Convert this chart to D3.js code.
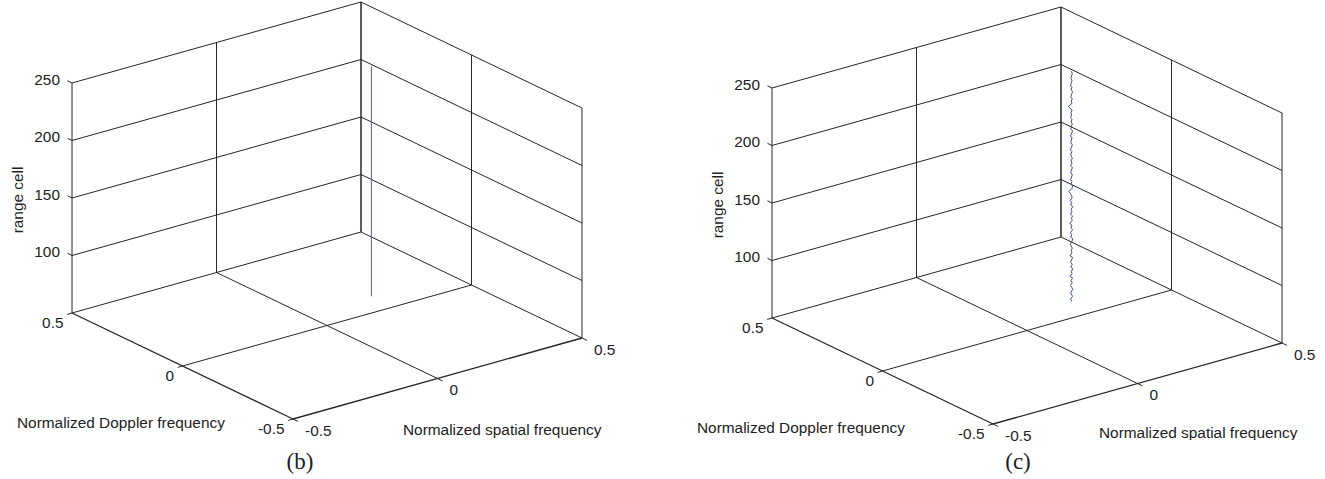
<!DOCTYPE html>
<html>
<head>
<meta charset="utf-8">
<script src="https://cdn.jsdelivr.net/npm/d3@7"></script>
<style>
  body { margin: 0; background: #fff; }
  text { font-family: "Liberation Sans", Arial, sans-serif; font-size: 15.4px; fill: #222; }
  .caption { font-family: "Liberation Serif", "Times New Roman", serif; font-size: 23px; }
</style>
</head>
<body>
<svg id="chart" width="1325" height="479"></svg>
<script>
// axis ticks and limits
var dopplerTicks = [-0.5, 0, 0.5];
var spatialTicks = [-0.5, 0, 0.5];
var rangeTicks = [100, 150, 200, 250];
var rangeLimits = [50, 250];
var gridLevels = [50, 100, 150, 200, 250];

// (b) estimated target track: straight line over the range cells
var bRange = [50, 250];
var bSpatial = [0.230, 0.230];
var bDoppler = 0.10;

// (c) estimated target track, every second range cell
var cRange = d3.range(50, 251, 2);
var cSpatial = [
  0.232, 0.227, 0.234, 0.230, 0.228, 0.235, 0.231, 0.227, 0.233, 0.229,
  0.234, 0.226, 0.232, 0.230, 0.235, 0.228, 0.233, 0.227, 0.231, 0.234,
  0.225, 0.232, 0.229, 0.233, 0.230, 0.226, 0.232, 0.235, 0.228, 0.231,
  0.227, 0.234, 0.229, 0.232, 0.224, 0.233, 0.230, 0.234, 0.227, 0.232,
  0.229, 0.235, 0.228, 0.231, 0.226, 0.233, 0.230, 0.227, 0.221, 0.232,
  0.234, 0.229, 0.232, 0.227, 0.231, 0.233, 0.228, 0.230, 0.234, 0.227,
  0.232, 0.229, 0.233, 0.230, 0.228, 0.232, 0.226, 0.231, 0.233, 0.228,
  0.230, 0.232, 0.227, 0.231, 0.234, 0.228, 0.230, 0.233, 0.229, 0.232,
  0.227, 0.231, 0.228, 0.233, 0.226, 0.220, 0.232, 0.230, 0.233, 0.228,
  0.231, 0.234, 0.229, 0.232, 0.227, 0.230, 0.232, 0.228, 0.231, 0.233,
  0.230
];
var cDoppler = 0.10;

var svg = d3.select("#chart");

// oblique 3-D view: one scale per screen component of each data axis
function makeProjection(ox, oy)
{
    var sx = d3.scaleLinear().domain([-0.5, 0.5]).range([0, 289]),
        sy = d3.scaleLinear().domain([-0.5, 0.5]).range([0, -81]),
        dx = d3.scaleLinear().domain([0.5, -0.5]).range([0, 221]),
        dy = d3.scaleLinear().domain([0.5, -0.5]).range([0, 106]),
        zy = d3.scaleLinear().domain(rangeLimits).range([0, -230]);
    return function(s, d, z)
    {
        return [ox + sx(s) + dx(d), oy + sy(s) + dy(d) + zy(z)];
    };
}

function drawPanel(opt)
{
    var p = makeProjection(opt.ox, opt.oy);
    var g = svg.append("g");

    function seg(a, b, w)
    {
        g.append("line")
            .attr("x1", a[0]).attr("y1", a[1])
            .attr("x2", b[0]).attr("y2", b[1])
            .attr("stroke", "#262626")
            .attr("stroke-width", w || 1);
    }

    // back walls: horizontal grid lines
    gridLevels.forEach(function(z)
    {
        seg(p(-0.5, 0.5, z), p(0.5, 0.5, z));
        seg(p(0.5, 0.5, z), p(0.5, -0.5, z));
    });
    // back walls: vertical grid lines
    spatialTicks.forEach(function(s)
    {
        seg(p(s, 0.5, rangeLimits[0]), p(s, 0.5, rangeLimits[1]));
    });
    dopplerTicks.forEach(function(d)
    {
        seg(p(0.5, d, rangeLimits[0]), p(0.5, d, rangeLimits[1]));
    });
    // floor grid
    seg(p(0, 0.5, rangeLimits[0]), p(0, -0.5, rangeLimits[0]));
    seg(p(-0.5, 0, rangeLimits[0]), p(0.5, 0, rangeLimits[0]));
    // front axis lines
    seg(p(-0.5, 0.5, rangeLimits[0]), p(-0.5, -0.5, rangeLimits[0]), 1.3);
    seg(p(-0.5, -0.5, rangeLimits[0]), p(0.5, -0.5, rangeLimits[0]), 1.3);

    // range cell ticks (left edge)
    rangeTicks.forEach(function(z)
    {
        var a = p(-0.5, 0.5, z);
        seg(a, [a[0] - 4.5, a[1] - 2.2]);
        g.append("text")
            .attr("x", a[0] - 12).attr("y", a[1] - 3.5)
            .attr("dy", "0.35em")
            .attr("text-anchor", "end")
            .text(z);
    });
    // Doppler ticks
    dopplerTicks.forEach(function(d)
    {
        var a = p(-0.5, d, rangeLimits[0]);
        seg(a, [a[0] - 4.8, a[1] + 1.4]);
        g.append("text")
            .attr("x", a[0] - 8.5).attr("y", a[1] + 10)
            .attr("dy", "0.35em")
            .attr("text-anchor", "end")
            .text(d);
    });
    // spatial ticks
    spatialTicks.forEach(function(s)
    {
        var a = p(s, -0.5, rangeLimits[0]);
        seg(a, [a[0] + 5, a[1] + 2.4]);
        g.append("text")
            .attr("x", a[0] + 12).attr("y", a[1] + 11.5)
            .attr("dy", "0.35em")
            .attr("text-anchor", "start")
            .text(s);
    });

    // target track
    var line = d3.line()
        .x(function(v) { return p(v[0], v[1], v[2])[0]; })
        .y(function(v) { return p(v[0], v[1], v[2])[1]; });
    g.append("path")
        .datum(opt.track)
        .attr("d", line)
        .attr("fill", "none")
        .attr("stroke", opt.trackColor)
        .attr("stroke-width", 1);

    // axis titles
    g.append("text")
        .attr("x", opt.dopplerTitle[0]).attr("y", opt.dopplerTitle[1])
        .attr("dy", "0.35em")
        .text("Normalized Doppler frequency");
    var st = g.append("text")
        .attr("x", opt.spatialTitle[0]).attr("y", opt.spatialTitle[1])
        .attr("dy", "0.35em")
        .text("Normalized spatial frequency");
    if (opt.clipY)
    {
        var id = "clip" + opt.caption.replace(/\W/g, "");
        svg.append("clipPath").attr("id", id)
            .append("rect").attr("x", 0).attr("y", 0)
            .attr("width", 1325).attr("height", opt.clipY);
        st.attr("clip-path", "url(#" + id + ")");
    }
    g.append("text")
        .attr("transform", "translate(" + opt.rangeTitle[0] + "," + opt.rangeTitle[1] + ") rotate(-90)")
        .attr("dy", "0.35em")
        .attr("text-anchor", "middle")
        .text("range cell");
    g.append("text")
        .attr("class", "caption")
        .attr("x", opt.captionPos[0]).attr("y", opt.captionPos[1])
        .attr("text-anchor", "middle")
        .text(opt.caption);
}

drawPanel({
    ox: 72, oy: 313,
    track: bRange.map(function(z, i) { return [bSpatial[i], bDoppler, z]; }),
    trackColor: "#5560b0",
    dopplerTitle: [17, 423],
    spatialTitle: [403, 430],
    rangeTitle: [18, 200],
    captionPos: [300, 469],
    caption: "(b)"
});

drawPanel({
    ox: 772, oy: 318,
    track: cRange.map(function(z, i) { return [cSpatial[i], cDoppler, z]; }),
    trackColor: "#3a48b0",
    dopplerTitle: [697, 428],
    spatialTitle: [1099, 433],
    clipY: 440,
    rangeTitle: [718, 205],
    captionPos: [1018, 469],
    caption: "(c)"
});
</script>
</body>
</html>
